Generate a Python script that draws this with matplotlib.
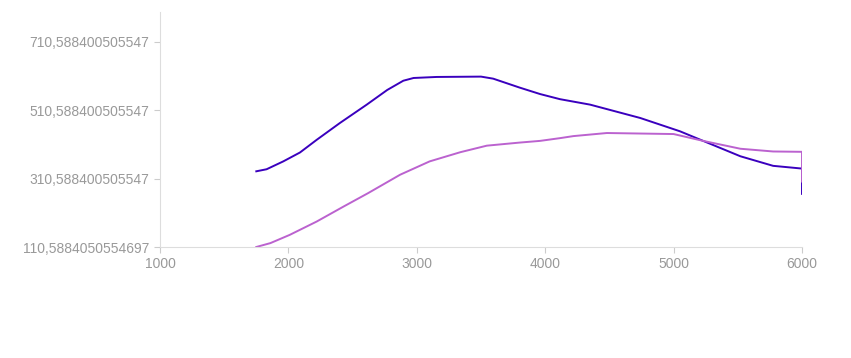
import numpy as np
import matplotlib
matplotlib.use('Agg')
import matplotlib.pyplot as plt
from matplotlib.ticker import FixedLocator

# readings taken from the chart (rpm vs value), one x list per series
rpm_a = [1750, 1830, 1960, 2090, 2220, 2400, 2610, 2770, 2895, 2975, 3155, 3500,
         3595, 3800, 3960, 4115, 4350, 4740, 5050, 5230, 5520, 5775, 6000, 6000]
series_a = [332, 338, 361, 387, 424, 473, 527, 570, 597, 605, 608, 609,
            603, 577, 558, 543, 527, 488, 449, 421, 376, 348, 340, 266]

rpm_b = [1750, 1860, 2010, 2220, 2430, 2620, 2870, 3100, 3340, 3545, 3800, 3960,
         4115, 4220, 4480, 5000, 5230, 5520, 5775, 6000, 6000]
series_b = [110.5884050554697, 122, 146, 185, 229, 268, 322, 361, 388, 407, 416, 421,
            429, 435, 444, 441, 421, 398, 390, 389, 302]

x_ticks = [1000, 2000, 3000, 4000, 5000, 6000]
y_ticks = [110.5884050554697, 310.588400505547, 510.588400505547, 710.588400505547]
y_labels = ["110,5884050554697", "310,588400505547", "510,588400505547", "710,588400505547"]

plt.rcParams['font.family'] = ['Liberation Sans', 'DejaVu Sans']

fig = plt.figure(figsize=(8.51, 3.58), dpi=100)
ax = fig.add_axes([160/851, 111/358, 642/851, 235/358])

ax.plot(rpm_a, series_a, color='#3a00be', lw=1.4, solid_joinstyle='round')
ax.plot(rpm_b, series_b, color='#bb62cf', lw=1.4, solid_joinstyle='round')

ax.set_xlim(1000, 6000)
ax.set_ylim(y_ticks[0], 798)

ax.xaxis.set_major_locator(FixedLocator(x_ticks))
ax.set_xticklabels([str(v) for v in x_ticks])
ax.yaxis.set_major_locator(FixedLocator(y_ticks))
ax.set_yticklabels(y_labels)

for s in ['top', 'right']:
    ax.spines[s].set_visible(False)
for s in ['left', 'bottom']:
    ax.spines[s].set_color('#dddddd')
    ax.spines[s].set_linewidth(0.8)

ax.tick_params(axis='both', colors='#cccccc', labelcolor='#999999',
               labelsize=10, length=4.5, width=0.8, pad=3)

fig.savefig('out.png', dpi=100)
